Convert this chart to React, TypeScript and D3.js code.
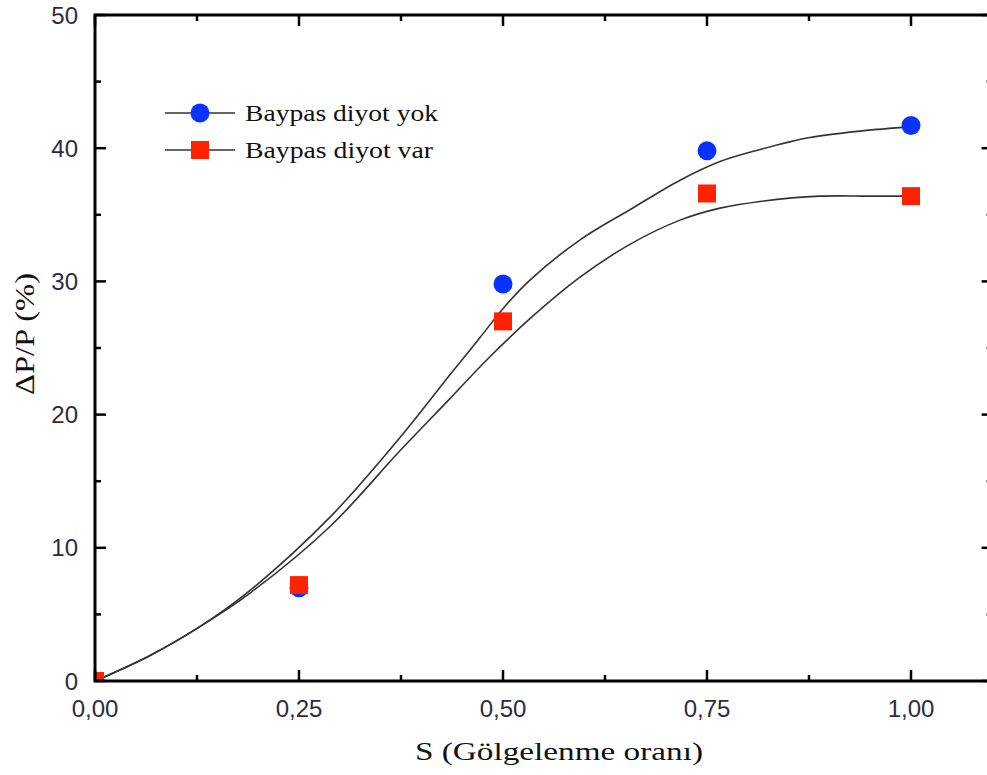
import React, { useRef, useEffect } from "react";
import * as d3 from "d3";

// measured points (S = shading ratio, dP/P in %)
const shading = [0, 0.25, 0.5, 0.75, 1.0];
const lossNoDiode = [0, 7.0, 29.8, 39.8, 41.7];
const lossWithDiode = [0, 7.2, 27.0, 36.6, 36.4];

// fitted curves
const fitNoDiodeS = [0, 0.067, 0.129, 0.19, 0.288, 0.374, 0.435, 0.472, 0.502, 0.533, 0.594, 0.656, 0.717, 0.766, 0.815, 0.876, 0.94, 1.0];
const fitNoDiodeV = [0, 1.9, 4.1, 6.8, 12.3, 18.3, 23.0, 25.8, 28.1, 30.1, 33.1, 35.4, 37.6, 39.0, 39.9, 40.8, 41.3, 41.6];
const fitDiodeS = [0, 0.067, 0.129, 0.19, 0.288, 0.374, 0.435, 0.48, 0.533, 0.594, 0.656, 0.717, 0.766, 0.815, 0.888, 0.95, 1.0];
const fitDiodeV = [0, 1.9, 4.1, 6.6, 11.6, 17.3, 21.2, 24.1, 27.2, 30.3, 32.8, 34.6, 35.5, 36.0, 36.4, 36.4, 36.4];

const xMajor = [0, 0.25, 0.5, 0.75, 1.0];
const xMinor = [0.125, 0.375, 0.625, 0.875];
const xLabels = ["0,00", "0,25", "0,50", "0,75", "1,00"];
const yMajor = [0, 10, 20, 30, 40, 50];
const yMinor = [5, 15, 25, 35, 45];

const seriesNames = ["Baypas diyot yok", "Baypas diyot var"];

export default function App() {
  const svgRef = useRef<SVGSVGElement>(null);

  useEffect(() => {
    const svg = d3.select(svgRef.current);
    svg.selectAll("*").remove();

    const width = 987;
    const height = 775;
    const left = 95;
    const top = 15;
    const bottom = 681;
    const right = 992.6;

    const x = d3.scaleLinear().domain([0, 1.1]).range([left, right]);
    const y = d3.scaleLinear().domain([0, 50]).range([bottom, top]);

    svg.attr("width", width).attr("height", height).attr("viewBox", `0 0 ${width} ${height}`);

    const defs = svg.append("defs");
    defs.append("clipPath").attr("id", "plotClip")
      .append("rect")
      .attr("x", left).attr("y", top)
      .attr("width", right - left).attr("height", bottom - top);

    const plot = svg.append("g").attr("clip-path", "url(#plotClip)");

    // fit curves
    const line = d3.line<[number, number]>()
      .x((d) => x(d[0]))
      .y((d) => y(d[1]))
      .curve(d3.curveCatmullRom.alpha(0.5));

    const fits: [number, number][][] = [
      fitNoDiodeS.map((s, i) => [s, fitNoDiodeV[i]]),
      fitDiodeS.map((s, i) => [s, fitDiodeV[i]]),
    ];
    fits.forEach((pts) => {
      plot.append("path")
        .datum(pts)
        .attr("fill", "none")
        .attr("stroke", "#333")
        .attr("stroke-width", 1.6)
        .attr("d", line);
    });

    // markers
    plot.selectAll("circle.pt")
      .data(shading)
      .join("circle")
      .attr("class", "pt")
      .attr("cx", (d) => x(d))
      .attr("cy", (d, i) => y(lossNoDiode[i]))
      .attr("r", 9.5)
      .attr("fill", "#0a32ff");

    const sq = 18;
    plot.selectAll("rect.pt")
      .data(shading)
      .join("rect")
      .attr("class", "pt")
      .attr("x", (d) => x(d) - sq / 2)
      .attr("y", (d, i) => y(lossWithDiode[i]) - sq / 2)
      .attr("width", sq)
      .attr("height", sq)
      .attr("fill", "#ff2200");

    // frame
    svg.append("rect")
      .attr("x", left).attr("y", top)
      .attr("width", right - left).attr("height", bottom - top)
      .attr("fill", "none")
      .attr("stroke", "#000")
      .attr("stroke-width", 3);

    const ticks = svg.append("g").attr("stroke", "#000").attr("stroke-width", 2.5);
    const majLen = 11;
    const minLen = 6;
    const xt = [...xMajor.map((v) => ({ v, len: majLen })), ...xMinor.map((v) => ({ v, len: minLen }))];
    const yt = [...yMajor.map((v) => ({ v, len: majLen })), ...yMinor.map((v) => ({ v, len: minLen }))];

    // bottom + top
    ticks.selectAll("line.xb").data(xt).join("line")
      .attr("class", "xb")
      .attr("x1", (d) => x(d.v)).attr("x2", (d) => x(d.v))
      .attr("y1", bottom).attr("y2", (d) => bottom - d.len);
    ticks.selectAll("line.xt").data(xt).join("line")
      .attr("class", "xt")
      .attr("x1", (d) => x(d.v)).attr("x2", (d) => x(d.v))
      .attr("y1", top).attr("y2", (d) => top + d.len);
    // left + right
    ticks.selectAll("line.yl").data(yt).join("line")
      .attr("class", "yl")
      .attr("x1", left).attr("x2", (d) => left + d.len)
      .attr("y1", (d) => y(d.v)).attr("y2", (d) => y(d.v));
    ticks.selectAll("line.yr").data(yt).join("line")
      .attr("class", "yr")
      .attr("x1", right).attr("x2", (d) => right - d.len)
      .attr("y1", (d) => y(d.v)).attr("y2", (d) => y(d.v));

    const sans = "'Liberation Sans', Arial, sans-serif";
    const serif = "'Liberation Serif', 'Times New Roman', serif";
    const labelColor = "#2c2c3e";

    svg.append("g").selectAll("text")
      .data(xMajor)
      .join("text")
      .attr("x", (d) => x(d))
      .attr("y", 717)
      .attr("text-anchor", "middle")
      .attr("font-family", sans)
      .attr("font-size", 24)
      .attr("fill", labelColor)
      .text((d, i) => xLabels[i]);

    svg.append("g").selectAll("text")
      .data(yMajor)
      .join("text")
      .attr("x", 78)
      .attr("y", (d) => y(d))
      .attr("dy", "0.36em")
      .attr("text-anchor", "end")
      .attr("font-family", sans)
      .attr("font-size", 24)
      .attr("fill", labelColor)
      .text((d) => String(d));

    // axis titles
    svg.append("text")
      .attr("x", 415)
      .attr("y", 760)
      .attr("font-family", serif)
      .attr("font-size", 25)
      .attr("fill", "#111")
      .attr("textLength", 288)
      .attr("lengthAdjust", "spacingAndGlyphs")
      .text("S (Gölgelenme oranı)");

    svg.append("text")
      .attr("transform", "translate(34,395) rotate(-90)")
      .attr("font-family", serif)
      .attr("font-size", 27)
      .attr("fill", "#111")
      .attr("textLength", 122)
      .attr("lengthAdjust", "spacingAndGlyphs")
      .text("ΔP/P (%)");

    // legend
    const legend = svg.append("g");
    const rows = [
      { name: seriesNames[0], y: 113, w: 193, kind: "circle" },
      { name: seriesNames[1], y: 150, w: 188, kind: "square" },
    ];
    rows.forEach((r) => {
      legend.append("line")
        .attr("x1", 165).attr("x2", 235)
        .attr("y1", r.y).attr("y2", r.y)
        .attr("stroke", "#333").attr("stroke-width", 1.6);
      if (r.kind === "circle") {
        legend.append("circle").attr("cx", 200).attr("cy", r.y).attr("r", 9.5).attr("fill", "#0a32ff");
      } else {
        legend.append("rect").attr("x", 200 - sq / 2).attr("y", r.y - sq / 2)
          .attr("width", sq).attr("height", sq).attr("fill", "#ff2200");
      }
      legend.append("text")
        .attr("x", 245)
        .attr("y", r.y)
        .attr("dy", "0.33em")
        .attr("font-family", serif)
        .attr("font-size", 24)
        .attr("fill", "#111")
        .attr("textLength", r.w)
        .attr("lengthAdjust", "spacingAndGlyphs")
        .text(r.name);
    });
  }, []);

  return (
    <svg
      ref={svgRef}
      style={{ position: "absolute", left: 0, top: 0, display: "block", background: "#fff" }}
    />
  );
}
